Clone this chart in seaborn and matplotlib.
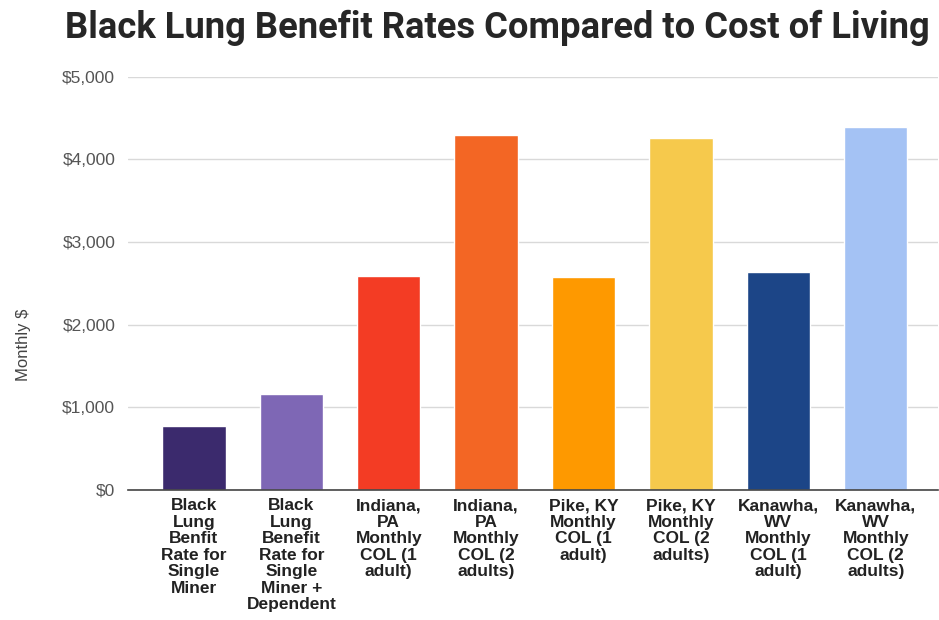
import matplotlib
matplotlib.use("Agg")
import matplotlib.pyplot as plt
import seaborn as sns
import pandas as pd
from matplotlib.ticker import FuncFormatter

categories = [
    "Black\nLung\nBenfit\nRate for\nSingle\nMiner",
    "Black\nLung\nBenefit\nRate for\nSingle\nMiner +\nDependent",
    "Indiana,\nPA\nMonthly\nCOL (1\nadult)",
    "Indiana,\nPA\nMonthly\nCOL (2\nadults)",
    "Pike, KY\nMonthly\nCOL (1\nadult)",
    "Pike, KY\nMonthly\nCOL (2\nadults)",
    "Kanawha,\nWV\nMonthly\nCOL (1\nadult)",
    "Kanawha,\nWV\nMonthly\nCOL (2\nadults)",
]
values = [775, 1162, 2591, 4301, 2575, 4262, 2643, 4398]
colors = ["#3b2a6d", "#7e67b5", "#f33c24", "#f36624", "#fe9900", "#f6c94c", "#1c4587", "#a4c2f4"]
yticks = [0, 1000, 2000, 3000, 4000, 5000]

sns.set_theme(style="white")
plt.rcParams['font.family'] = ['Liberation Sans', 'DejaVu Sans']

df = pd.DataFrame({"cat": categories, "val": values})
fig = plt.figure(figsize=(9.39, 6.2), dpi=100)
ax = fig.add_axes([0.136, 0.21, 0.863, 0.666])
sns.barplot(data=df, x="cat", y="val", hue="cat", palette=colors, legend=False,
            width=0.65, saturation=1, ax=ax)

ax.set_ylim(0, 5000)
ax.set_xlim(-0.68, 7.64)
ax.set_yticks(yticks)
ax.yaxis.set_major_formatter(FuncFormatter(lambda v, p: f"${int(v):,}"))
ax.grid(axis="y", color="#d9d9d9", linewidth=1)
ax.set_axisbelow(True)
for s in ["top", "right", "left"]:
    ax.spines[s].set_visible(False)
ax.spines["bottom"].set_color("#444444")
ax.spines["bottom"].set_linewidth(1.2)
ax.tick_params(axis="y", length=0, pad=9, labelsize=12.5, labelcolor="#555555")
ax.tick_params(axis="x", length=0, pad=6)
for lbl in ax.get_xticklabels():
    lbl.set_fontweight("bold")
    lbl.set_fontsize(12.5)
    lbl.set_color("#222222")
    lbl.set_linespacing(1.13)
    lbl.set_verticalalignment("top")
ax.set_xlabel("")
ax.set_ylabel("Monthly $", fontsize=12, color="#444444")
ax.yaxis.set_label_coords(-0.119, 0.35)

fig.text(0.530, 0.955, "Black Lung Benefit Rates Compared to Cost of Living",
         ha="center", va="center", fontsize=26.2, fontweight="bold",
         family=["Roboto", "DejaVu Sans"], color="#262626")

fig.savefig("out.png", dpi=100, facecolor="white")
